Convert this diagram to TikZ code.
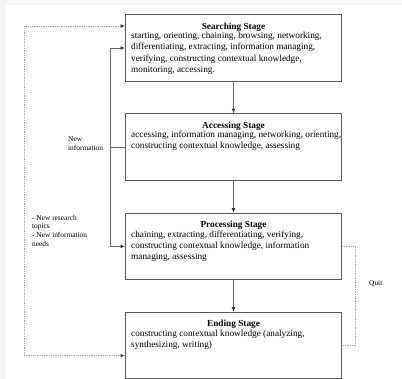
\documentclass[tikz,border=0pt]{standalone}
\usepackage{fontspec}
\setmainfont{Liberation Serif}
\usetikzlibrary{arrows.meta,calc}
\definecolor{bgout}{HTML}{F6F6F6}
\definecolor{boxline}{HTML}{5A5A5A}
\definecolor{flowline}{HTML}{6A6A6A}
\definecolor{dotline}{HTML}{A8A8A8}
\newcommand{\stagetext}[2]{\hspace*{5.7bp}\parbox[t][50.7bp][t]{210.3bp}{{\centering\bfseries\hspace*{-5.7bp}#1\par}\vspace{-1.5bp}\raggedright #2}}
\begin{document}
\begin{tikzpicture}[x=1bp,y=-1bp,
  stage/.style={draw=boxline, line width=1bp, anchor=north west, inner xsep=0bp, inner ysep=7.85bp,
    font=\fontsize{9.3}{11.2}\selectfont},
  flow/.style={draw=flowline, line width=0.9bp, -{Latex[length=4.5bp,width=3.8bp,color=black!80]}},
  plain/.style={draw=flowline, line width=0.9bp},
  dots/.style={draw=dotline, line width=0.9bp, dash pattern=on 0.9bp off 0.9bp},
  lab/.style={font=\fontsize{7.4}{8.8}\selectfont, align=left, inner sep=0pt, anchor=west}]
\fill[bgout] (0,0) rectangle (402,379);
\fill[white] (6,5) rectangle (402,379);
\useasboundingbox (0,0) rectangle (402,379);

\node[stage] (s) at (125,14.3) {\stagetext{Searching Stage}{starting, orienting, chaining, browsing, networking, differentiating, extracting, information managing, verifying, constructing contextual knowledge, monitoring, accessing.}};
\node[stage] (a) at (125,113.3) {\stagetext{Accessing Stage}{accessing, information managing, networking, orienting, constructing contextual knowledge, assessing}};
\node[stage] (p) at (125,212.7) {\stagetext{Processing Stage}{chaining, extracting, differentiating, verifying, constructing contextual knowledge, information managing, assessing}};
\node[stage] (e) at (125,311.7) {\stagetext{Ending Stage}{constructing contextual knowledge (analyzing, synthesizing, writing)}};

\draw[flow] (s) -- (a);
\draw[flow] (a) -- (p);
\draw[flow] (p) -- (e);

\draw[plain] (a.west) -- ++(-14.3,0) coordinate (j);
\draw[flow] (j) |- (s.west);
\draw[flow] (j) |- (p.west);

\draw[dots, {Latex[length=4.5bp,width=3.8bp,color=black!80]}-{Latex[length=4.5bp,width=3.8bp,color=black!80]}]
  ($(s.north west)+(0,11.7)$) -| (24,200) |- ($(e.north west)+(0,44)$);
\draw[dots] (p.east) -- ++(13.5,0) coordinate (q) |- (e.east);

\node[lab] (ni) at (68,143.5) {New\\information};
\node[lab] (nr) at (32,230.8) {- New research\\topics\\- New information\\needs};
\node[lab] (quit) at (369,283.3) {Quit};
\end{tikzpicture}
\end{document}
